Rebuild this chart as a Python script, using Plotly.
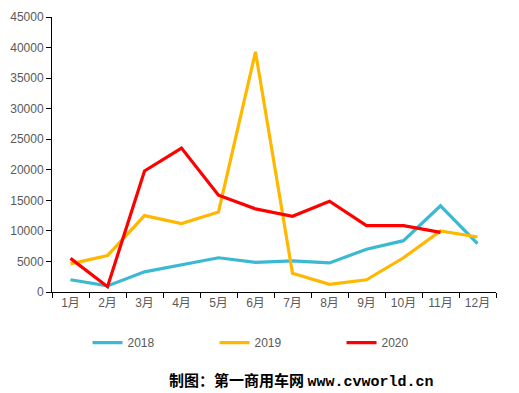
import plotly.graph_objects as go

months = ["1月", "2月", "3月", "4月", "5月", "6月", "7月", "8月", "9月", "10月", "11月", "12月"]
s2018 = [2000, 1000, 3300, 4400, 5600, 4850, 5100, 4750, 7000, 8400, 14100, 7900]
s2019 = [4600, 5950, 12500, 11200, 13100, 39300, 3050, 1250, 2000, 5600, 10000, 9000]
s2020 = [5500, 870, 19800, 23550, 15850, 13600, 12400, 14850, 10850, 10850, 9750]
series = [("2018", s2018, "#3BB9D2"), ("2019", s2019, "#FFB800"), ("2020", s2020, "#FF0000")]
yticks = [0, 5000, 10000, 15000, 20000, 25000, 30000, 35000, 40000, 45000]

font_fam = "Liberation Sans, Arial, Noto Sans CJK SC"
fig = go.Figure()
for name, vals, col in series:
    fig.add_trace(go.Scatter(x=months[:len(vals)], y=vals, name=name, mode="lines",
                             line=dict(color=col, width=3.2)))

fig.update_layout(
    width=519, height=393,
    margin=dict(l=52, r=23, t=17, b=101, autoexpand=False),
    paper_bgcolor="white", plot_bgcolor="white",
    font=dict(family=font_fam, size=12, color="#595959"),
    showlegend=True,
    legend=dict(orientation="h", x=0.08, y=0.165, xanchor="left", yanchor="top",
                yref="container",
                entrywidth=82, entrywidthmode="pixels", font=dict(size=12, color="#595959")),
    xaxis=dict(type="category", categoryorder="array", categoryarray=months,
               range=[-0.5, 11.5], showgrid=False, showline=True, linecolor="#000000",
               linewidth=1, ticks="outside", ticklen=5, tickcolor="#000000", automargin=False,
               tickson="boundaries", tickfont=dict(size=12, color="#595959")),
    yaxis=dict(range=[0, 45000], tickvals=yticks, ticktext=[str(v) for v in yticks],
               showgrid=False, showline=True, automargin=False,
               linecolor="#000000", linewidth=1, ticks="outside", ticklen=5,
               tickcolor="#000000", zeroline=False, tickfont=dict(size=12, color="#595959")),
)
fig.add_annotation(
    xref="paper", yref="paper", x=0.561, y=-0.32, xanchor="center", yanchor="middle",
    showarrow=False,
    text="<b>制图：第一商用车网</b> <span style=\"font-family:'Liberation Mono', monospace\"><b>www.cvworld.cn</b></span>",
    font=dict(family="Noto Sans CJK SC", size=15, color="#000000"),
)
fig.write_html("out.html", post_script="document.body.style.margin='0';",
               config={"displayModeBar": False})
